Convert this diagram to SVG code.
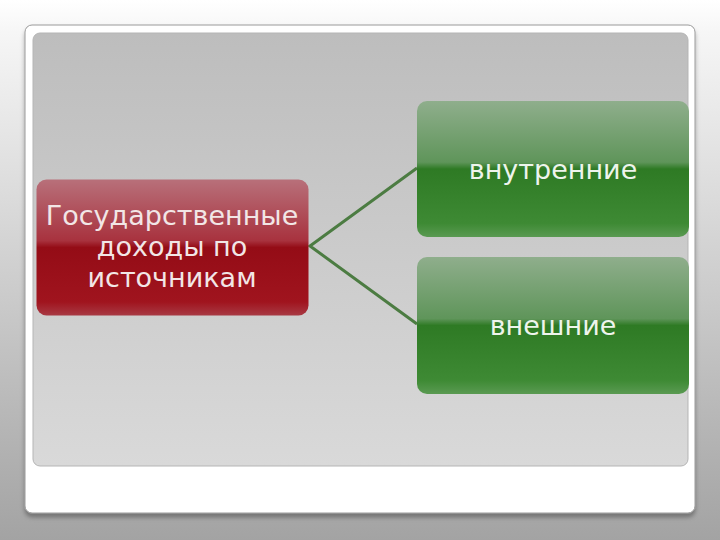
<svg xmlns="http://www.w3.org/2000/svg" width="720" height="540" viewBox="0 0 720 540">
  <defs>
    <linearGradient id="bg" x1="0" y1="0" x2="0" y2="1">
      <stop offset="0" stop-color="#ffffff"/>
      <stop offset="0.06" stop-color="#f6f6f6"/>
      <stop offset="1" stop-color="#a3a3a3"/>
    </linearGradient>
    <linearGradient id="panel" x1="0" y1="0" x2="0" y2="1">
      <stop offset="0" stop-color="#bdbdbd"/>
      <stop offset="1" stop-color="#d9d9d9"/>
    </linearGradient>
    <linearGradient id="red" x1="0" y1="0" x2="0" y2="1">
      <stop offset="0" stop-color="#b8707a"/>
      <stop offset="0.45" stop-color="#a8323e"/>
      <stop offset="0.5" stop-color="#940c16"/>
      <stop offset="0.9" stop-color="#a0141e"/>
      <stop offset="1" stop-color="#a83a44"/>
    </linearGradient>
    <linearGradient id="green" x1="0" y1="0" x2="0" y2="1">
      <stop offset="0" stop-color="#8fae8c"/>
      <stop offset="0.45" stop-color="#5f955a"/>
      <stop offset="0.5" stop-color="#2e7a24"/>
      <stop offset="0.9" stop-color="#3e8a34"/>
      <stop offset="1" stop-color="#5a9a52"/>
    </linearGradient>
    <filter id="sh" x="-5%" y="-5%" width="110%" height="115%">
      <feDropShadow dx="0" dy="4" stdDeviation="2" flood-color="#000" flood-opacity="0.3"/>
    </filter>
  </defs>
  <style>
    .t1 { font-family: "DejaVu Sans", Verdana, sans-serif; font-size: 27px; fill: #f2e6e6; text-anchor: middle; }
    .t2 { font-family: "DejaVu Sans", Verdana, sans-serif; font-size: 27px; fill: #eef4ec; text-anchor: middle; }
    .conn { stroke: #4c7c42; stroke-width: 3; fill: none; }
  </style>
  <rect x="0" y="0" width="720" height="540" fill="url(#bg)"/>
  <g id="frame">
    <rect x="25" y="25" width="670" height="488" rx="7" fill="#ffffff" stroke="#9a9a9a" stroke-width="1" filter="url(#sh)"/>
    <rect x="33" y="33" width="655" height="433" rx="7" fill="url(#panel)" stroke="#b5b5b5" stroke-width="1"/>
  </g>
  <g id="connectors">
    <polyline class="conn" points="417,168 310,246 417,324"/>
  </g>
  <g id="node-main">
    <rect x="36.5" y="179.5" width="272" height="136" rx="10" fill="url(#red)"/>
    <text class="t1" x="172" y="225">Государственные</text>
    <text class="t1" x="172" y="256">доходы по</text>
    <text class="t1" x="172" y="287">источникам</text>
  </g>
  <g id="node-internal">
    <rect x="417" y="101" width="272" height="136" rx="10" fill="url(#green)"/>
    <text class="t2" x="553" y="179">внутренние</text>
  </g>
  <g id="node-external">
    <rect x="417" y="257" width="272" height="137" rx="10" fill="url(#green)"/>
    <text class="t2" x="553" y="335">внешние</text>
  </g>
</svg>
